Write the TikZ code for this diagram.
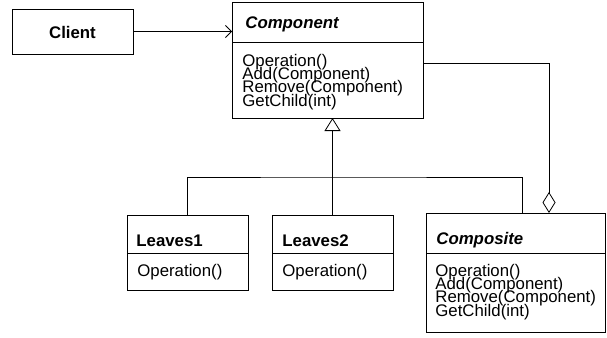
\documentclass[tikz,border=0pt]{standalone}
\usepackage{fontspec}
\setmainfont{Liberation Sans}
\usetikzlibrary{arrows.meta}
\newcommand\mytightlines{\lineskiplimit=-100pt\relax\lineskip=0pt\relax}
\begin{document}
\begin{tikzpicture}[x=1pt,y=-1pt,line width=0.8pt,
  classbox/.style={draw,rectangle,anchor=north west,inner sep=0,outer sep=0},
  titletext/.style={anchor=base west,inner sep=0,font=\fontsize{16.8}{16.8}\selectfont\bfseries},
  ititle/.style={titletext,font=\fontsize{16.8}{16.8}\selectfont\bfseries\itshape},
  optext/.style={anchor=base west,inner sep=0,align=left,font={\fontsize{16.8}{13.4}\selectfont\mytightlines}},
  assoc/.style={-{Straight Barb[length=6pt,width=12pt,line width=0.8pt]}},
  inherit/.style={-{Triangle[open,length=13pt,width=16pt,line width=0.8pt]}},
  aggr/.style={{Diamond[open,length=21pt,width=13pt,line width=0.8pt]}-}
]
\useasboundingbox (0,0) rectangle (607,337);
% Client
\node[classbox,minimum width=121pt,minimum height=45pt] (client) at (12,9) {};
\node[anchor=center,inner sep=0,font=\fontsize{16.8}{16.8}\selectfont\bfseries] (clientt) at (72.5,32) {Client};
% Component
\node[classbox,minimum width=191pt,minimum height=116pt] (comp) at (232,2) {};
\draw (232,42) -- (423,42);
\node[ititle] (compt) at (245,29) {Component};
\node[optext] (cops) at (242,106.2) {Operation()\\Add(Component)\\Remove(Component)\\GetChild(int)};
% Leaves1
\node[classbox,minimum width=121pt,minimum height=75pt] (leaf1) at (127,215) {};
\draw (127,253) -- (248,253);
\node[titletext] (l1t) at (136,246) {Leaves1};
\node[optext] (l1o) at (137,276) {Operation()};
% Leaves2
\node[classbox,minimum width=121pt,minimum height=75pt] (leaf2) at (272,215) {};
\draw (272,253) -- (393,253);
\node[titletext] (l2t) at (282,246) {Leaves2};
\node[optext] (l2o) at (282,276) {Operation()};
% Composite
\node[classbox,minimum width=179pt,minimum height=119pt] (compos) at (426,213) {};
\draw (426,253) -- (605,253);
\node[ititle] (cpt) at (436,244) {Composite};
\node[optext] (kops) at (435,316.2) {Operation()\\Add(Component)\\Remove(Component)\\GetChild(int)};
% connectors
\draw[assoc] (client.east) -- (client.east -| comp.west);
\coordinate (bus) at (332.5,177);
\coordinate (cin) at (522,213);
\draw[inherit] (leaf2.north) -- (leaf2.north |- comp.south);
\draw (leaf1.north) |- (bus) -| (cin);
\coordinate (aggstart) at (423,63);
\coordinate (aggend) at (549,213);
\draw[aggr] (aggend) |- (aggstart);
\end{tikzpicture}
\end{document}
